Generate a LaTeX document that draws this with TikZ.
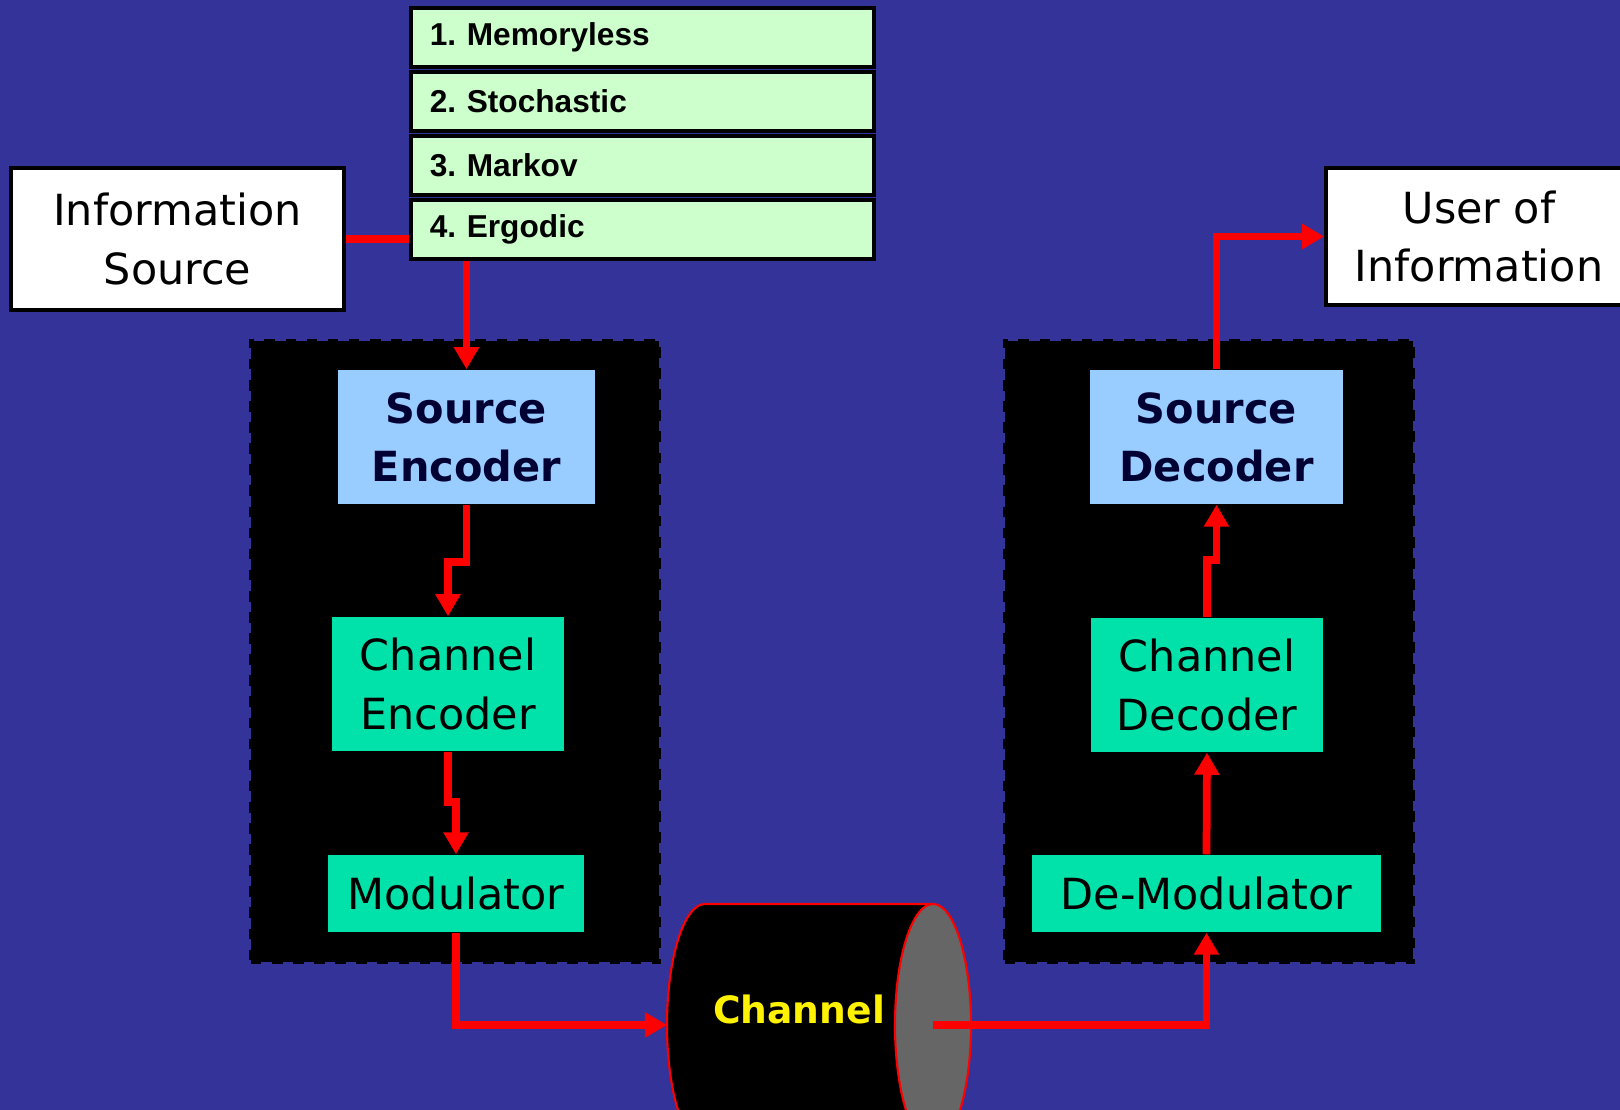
\documentclass[tikz,border=0pt]{standalone}
\usepackage{fontspec}
\setmainfont{DejaVu Sans}
\newfontfamily\listfont{Liberation Sans}
\usetikzlibrary{arrows.meta}

\begin{document}
\begin{tikzpicture}[x=0.01cm,y=-0.01cm,
  lbl/.style={font=\fontsize{12.2}{16.6}\selectfont,align=center,inner sep=0pt},
  whitebox/.style={lbl,draw=black,line width=1pt,fill=white},
  listbox/.style={draw=black,line width=1pt,fill=kList,
    font=\listfont\bfseries\fontsize{9}{11}\selectfont,
    text width=4.25cm,align=left,inner xsep=0.19cm,inner ysep=0pt,
    minimum height=0.59cm},
  srcbox/.style={fill=kSrc,text=kNavy,align=center,inner sep=0pt,
    font=\bfseries\fontsize{11.8}{16.5}\selectfont},
  chbox/.style={lbl,fill=kChan},
  stagebox/.style={fill=black,draw=black,dashed,line width=0.8pt,inner sep=0pt},
  link/.style={draw=kRed,line width=2.2pt},
  flow/.style={link,-{Triangle[length=0.22cm,width=0.24cm]}}]
  \definecolor{kBack}{RGB}{51,51,153}
  \definecolor{kList}{RGB}{204,255,204}
  \definecolor{kSrc}{RGB}{153,204,255}
  \definecolor{kChan}{RGB}{0,226,170}
  \definecolor{kNavy}{RGB}{0,0,51}
  \definecolor{kRed}{RGB}{255,0,0}
  \definecolor{kCap}{RGB}{102,102,102}

  % background
  \clip (0,0) rectangle (1620,1110);
  \fill[kBack] (0,0) rectangle (1620,1110);

  % source and user
  \node[whitebox,minimum width=3.33cm,minimum height=1.42cm] (infosrc) at (177.5,239) {Information\\Source};
  \node[whitebox,minimum width=3.06cm,minimum height=1.37cm] (user) at (1479,236.5) {User of\\Information};

  % source properties
  \foreach \n/\t in {1/Memoryless,2/Stochastic,3/Markov,4/Ergodic}
  {
    \node[listbox] (prop\n) at (642.5,{37.5+64*(\n-1)}) {\n.\ \t};
  }

  % transmitter
  \node[stagebox,minimum width=4.08cm,minimum height=6.21cm] (txside) at (455,651.5) {};
  \node[srcbox,minimum width=2.57cm,minimum height=1.34cm] (srcenc) at (466.5,437) {Source\\Encoder};
  \node[chbox,minimum width=2.32cm,minimum height=1.34cm] (chenc) at (448,684) {Channel\\Encoder};
  \node[chbox,minimum width=2.56cm,minimum height=0.77cm] (mod) at (456,893.5) {Modulator};

  % receiver
  \node[stagebox,minimum width=4.08cm,minimum height=6.21cm] (rxside) at (1209,651.5) {};
  \node[srcbox,minimum width=2.53cm,minimum height=1.34cm] (srcdec) at (1216.5,437) {Source\\Decoder};
  \node[chbox,minimum width=2.32cm,minimum height=1.34cm] (chdec) at (1207,685) {Channel\\Decoder};
  \node[chbox,minimum width=3.49cm,minimum height=0.77cm] (demod) at (1206.5,893.5) {De-Modulator};

  % channel
  \coordinate (chanin) at (667,1025);
  \coordinate (chanout) at (933,1025);
  \filldraw[fill=black,draw=kRed,line width=0.6pt] (705,904)
    arc[start angle=270,end angle=90,x radius=38,y radius=121]
    -- (933,1146) -- (933,904) -- cycle;
  \filldraw[fill=kCap,draw=kRed,line width=0.6pt] (chanout) circle[x radius=38,y radius=121];
  \node[text=yellow,font=\bfseries\fontsize{10.7}{13}\selectfont] (chan) at (799,1009) {Channel};

  % links
  \draw[link] (infosrc.east) -- (infosrc.east -| prop4.west);
  \draw[flow] (prop4.south -| srcenc.north) -- (srcenc.north);
  \draw[flow] (srcenc.south) -- ++(0,57) -| (chenc.north);
  \draw[flow] (chenc.south) -- ++(0,50) -| (mod.north);
  \draw[flow] (mod.south) |- (chanin);
  \draw[flow] (chanout) -| (demod.south);
  \draw[flow] (demod.north) -- (chdec.south);
  \draw[flow] (chdec.north) -- ++(0,-57) -| (srcdec.south);
  \draw[flow] (srcdec.north) |- (user.west);

\end{tikzpicture}
\end{document}
